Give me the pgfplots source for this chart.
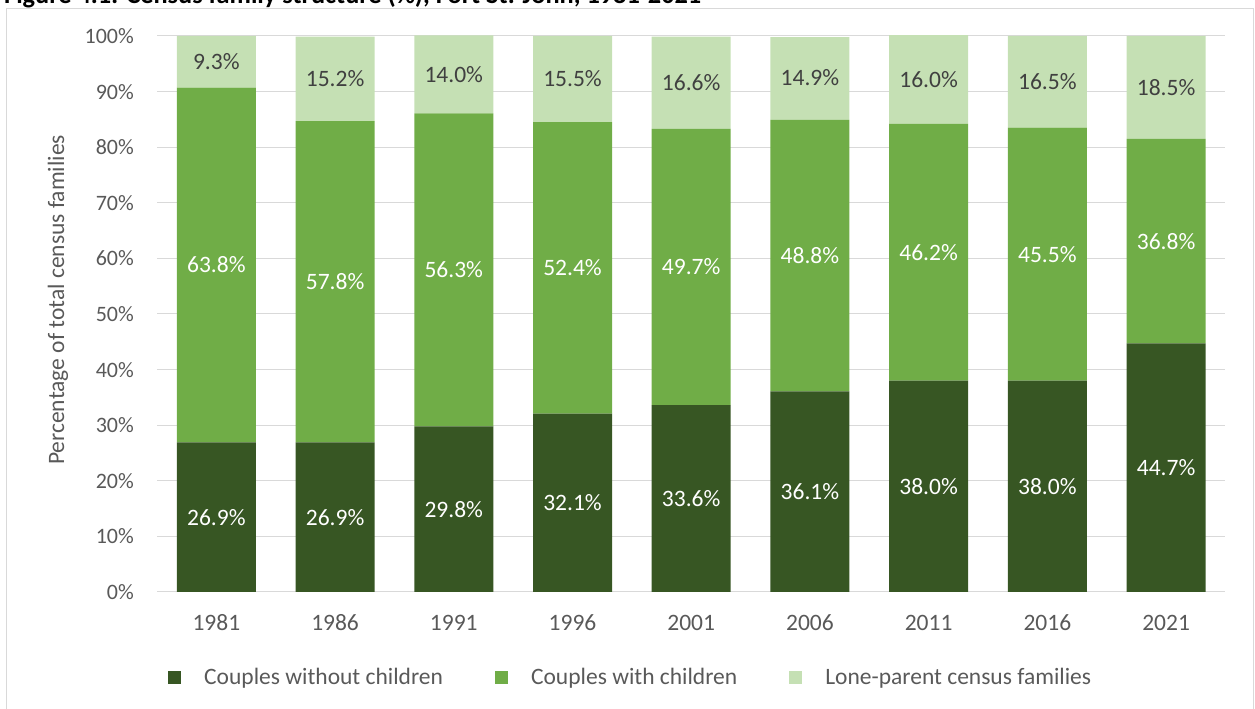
\documentclass[border=0pt]{standalone}
\usepackage{fontspec}
\setmainfont{Carlito}
\usepackage{pgfplots}
\pgfplotsset{compat=1.18}
\definecolor{cdark}{HTML}{375623}
\definecolor{cmid}{HTML}{70AD47}
\definecolor{clight}{HTML}{C5E0B4}
\definecolor{cgrid}{HTML}{D9D9D9}
\definecolor{ctext}{HTML}{595959}
\definecolor{clab}{HTML}{404040}
\tikzset{dw/.style={font=\fontsize{23.5}{27}\selectfont, text=white},
         dg/.style={font=\fontsize{23.5}{27}\selectfont, text=clab}}
\begin{document}
\begin{tikzpicture}
\useasboundingbox (0pt,0pt) rectangle (1255pt,709pt);
\begin{scope}
\clip (0pt,0pt) rectangle (1255pt,709pt);
\node[anchor=base west, inner sep=0pt, font=\fontsize{26.3}{30}\selectfont\bfseries] at (4pt,705.5pt) {Figure 4.1: Census family structure (\%), Fort St. John, 1981-2021};
\draw[cgrid, line width=1pt] (6pt,-5pt) -- (6pt,700pt) -- (1253pt,700pt) -- (1253pt,-5pt);
\end{scope}
\begin{axis}[
  at={(157pt,117pt)}, anchor=south west,
  scale only axis, width=1068.5pt, height=556pt,
  ybar stacked, bar width=79pt,
  xmin=-0.5, xmax=8.5, ymin=0, ymax=100,
  xtick={0,...,8},
  xticklabels={1981,1986,1991,1996,2001,2006,2011,2016,2021},
  ytick={0,10,...,100},
  yticklabel={\pgfmathprintnumber{\tick}\%},
  /pgf/number format/assume math mode=true,
  major tick length=0pt,
  tick style={draw=none},
  axis x line*=bottom, axis y line*=left,
  x axis line style={draw=cgrid, line width=1pt},
  y axis line style={draw=none},
  ymajorgrids, grid style={draw=cgrid, line width=1pt},
  yticklabel style={font=\fontsize{22}{26}\selectfont, text=ctext, anchor=east, inner sep=0pt, xshift=-23pt},
  xticklabel style={font=\fontsize{23.5}{27}\selectfont, text=ctext, anchor=base, inner sep=0pt, yshift=-38.5pt},
  legend columns=3,
  legend style={draw=none, fill=none, inner sep=0pt, at={(0.0103,-0.1529)}, anchor=west,
    font=\fontsize{23.5}{27}\selectfont, text=ctext,
    /tikz/every odd column/.append style={column sep=23pt},
    /tikz/every even column/.append style={column sep=52pt},
    nodes={inner sep=0pt, anchor=west}},
  legend image code/.code={\fill[#1] (0pt,-6.5pt) rectangle (13pt,6.5pt);},
]
\addplot[fill=cdark, draw=none] coordinates {(0,26.9) (1,26.9) (2,29.8) (3,32.1) (4,33.6) (5,36.1) (6,38.0) (7,38.0) (8,44.7)};
\addplot[fill=cmid, draw=none] coordinates {(0,63.8) (1,57.8) (2,56.3) (3,52.4) (4,49.7) (5,48.8) (6,46.2) (7,45.5) (8,36.8)};
\addplot[fill=clight, draw=none] coordinates {(0,9.3) (1,15.2) (2,14.0) (3,15.5) (4,16.6) (5,14.9) (6,16.0) (7,16.5) (8,18.5)};
\legend{Couples without children, Couples with children, Lone-parent census families}
\coordinate (a0) at (axis cs:0,13.45);
\coordinate (a1) at (axis cs:1,13.45);
\coordinate (a2) at (axis cs:2,14.9);
\coordinate (a3) at (axis cs:3,16.05);
\coordinate (a4) at (axis cs:4,16.8);
\coordinate (a5) at (axis cs:5,18.05);
\coordinate (a6) at (axis cs:6,19.0);
\coordinate (a7) at (axis cs:7,19.0);
\coordinate (a8) at (axis cs:8,22.35);
\coordinate (b0) at (axis cs:0,58.8);
\coordinate (b1) at (axis cs:1,55.8);
\coordinate (b2) at (axis cs:2,57.95);
\coordinate (b3) at (axis cs:3,58.3);
\coordinate (b4) at (axis cs:4,58.45);
\coordinate (b5) at (axis cs:5,60.5);
\coordinate (b6) at (axis cs:6,61.1);
\coordinate (b7) at (axis cs:7,60.75);
\coordinate (b8) at (axis cs:8,63.1);
\coordinate (c0) at (axis cs:0,95.35);
\coordinate (c1) at (axis cs:1,92.35);
\coordinate (c2) at (axis cs:2,93.0);
\coordinate (c3) at (axis cs:3,92.25);
\coordinate (c4) at (axis cs:4,91.7);
\coordinate (c5) at (axis cs:5,92.45);
\coordinate (c6) at (axis cs:6,92.1);
\coordinate (c7) at (axis cs:7,91.75);
\coordinate (c8) at (axis cs:8,90.75);
\end{axis}
\node[dw] at (a0) {26.9\%};
\node[dw] at (a1) {26.9\%};
\node[dw] at (a2) {29.8\%};
\node[dw] at (a3) {32.1\%};
\node[dw] at (a4) {33.6\%};
\node[dw] at (a5) {36.1\%};
\node[dw] at (a6) {38.0\%};
\node[dw] at (a7) {38.0\%};
\node[dw] at (a8) {44.7\%};
\node[dw] at (b0) {63.8\%};
\node[dw] at (b1) {57.8\%};
\node[dw] at (b2) {56.3\%};
\node[dw] at (b3) {52.4\%};
\node[dw] at (b4) {49.7\%};
\node[dw] at (b5) {48.8\%};
\node[dw] at (b6) {46.2\%};
\node[dw] at (b7) {45.5\%};
\node[dw] at (b8) {36.8\%};
\node[dg] at (c0) {9.3\%};
\node[dg] at (c1) {15.2\%};
\node[dg] at (c2) {14.0\%};
\node[dg] at (c3) {15.5\%};
\node[dg] at (c4) {16.6\%};
\node[dg] at (c5) {14.9\%};
\node[dg] at (c6) {16.0\%};
\node[dg] at (c7) {16.5\%};
\node[dg] at (c8) {18.5\%};
\node[rotate=90, font=\fontsize{23.5}{27}\selectfont, text=ctext] at (58pt,409pt) {Percentage of total census families};
\end{tikzpicture}
\end{document}
